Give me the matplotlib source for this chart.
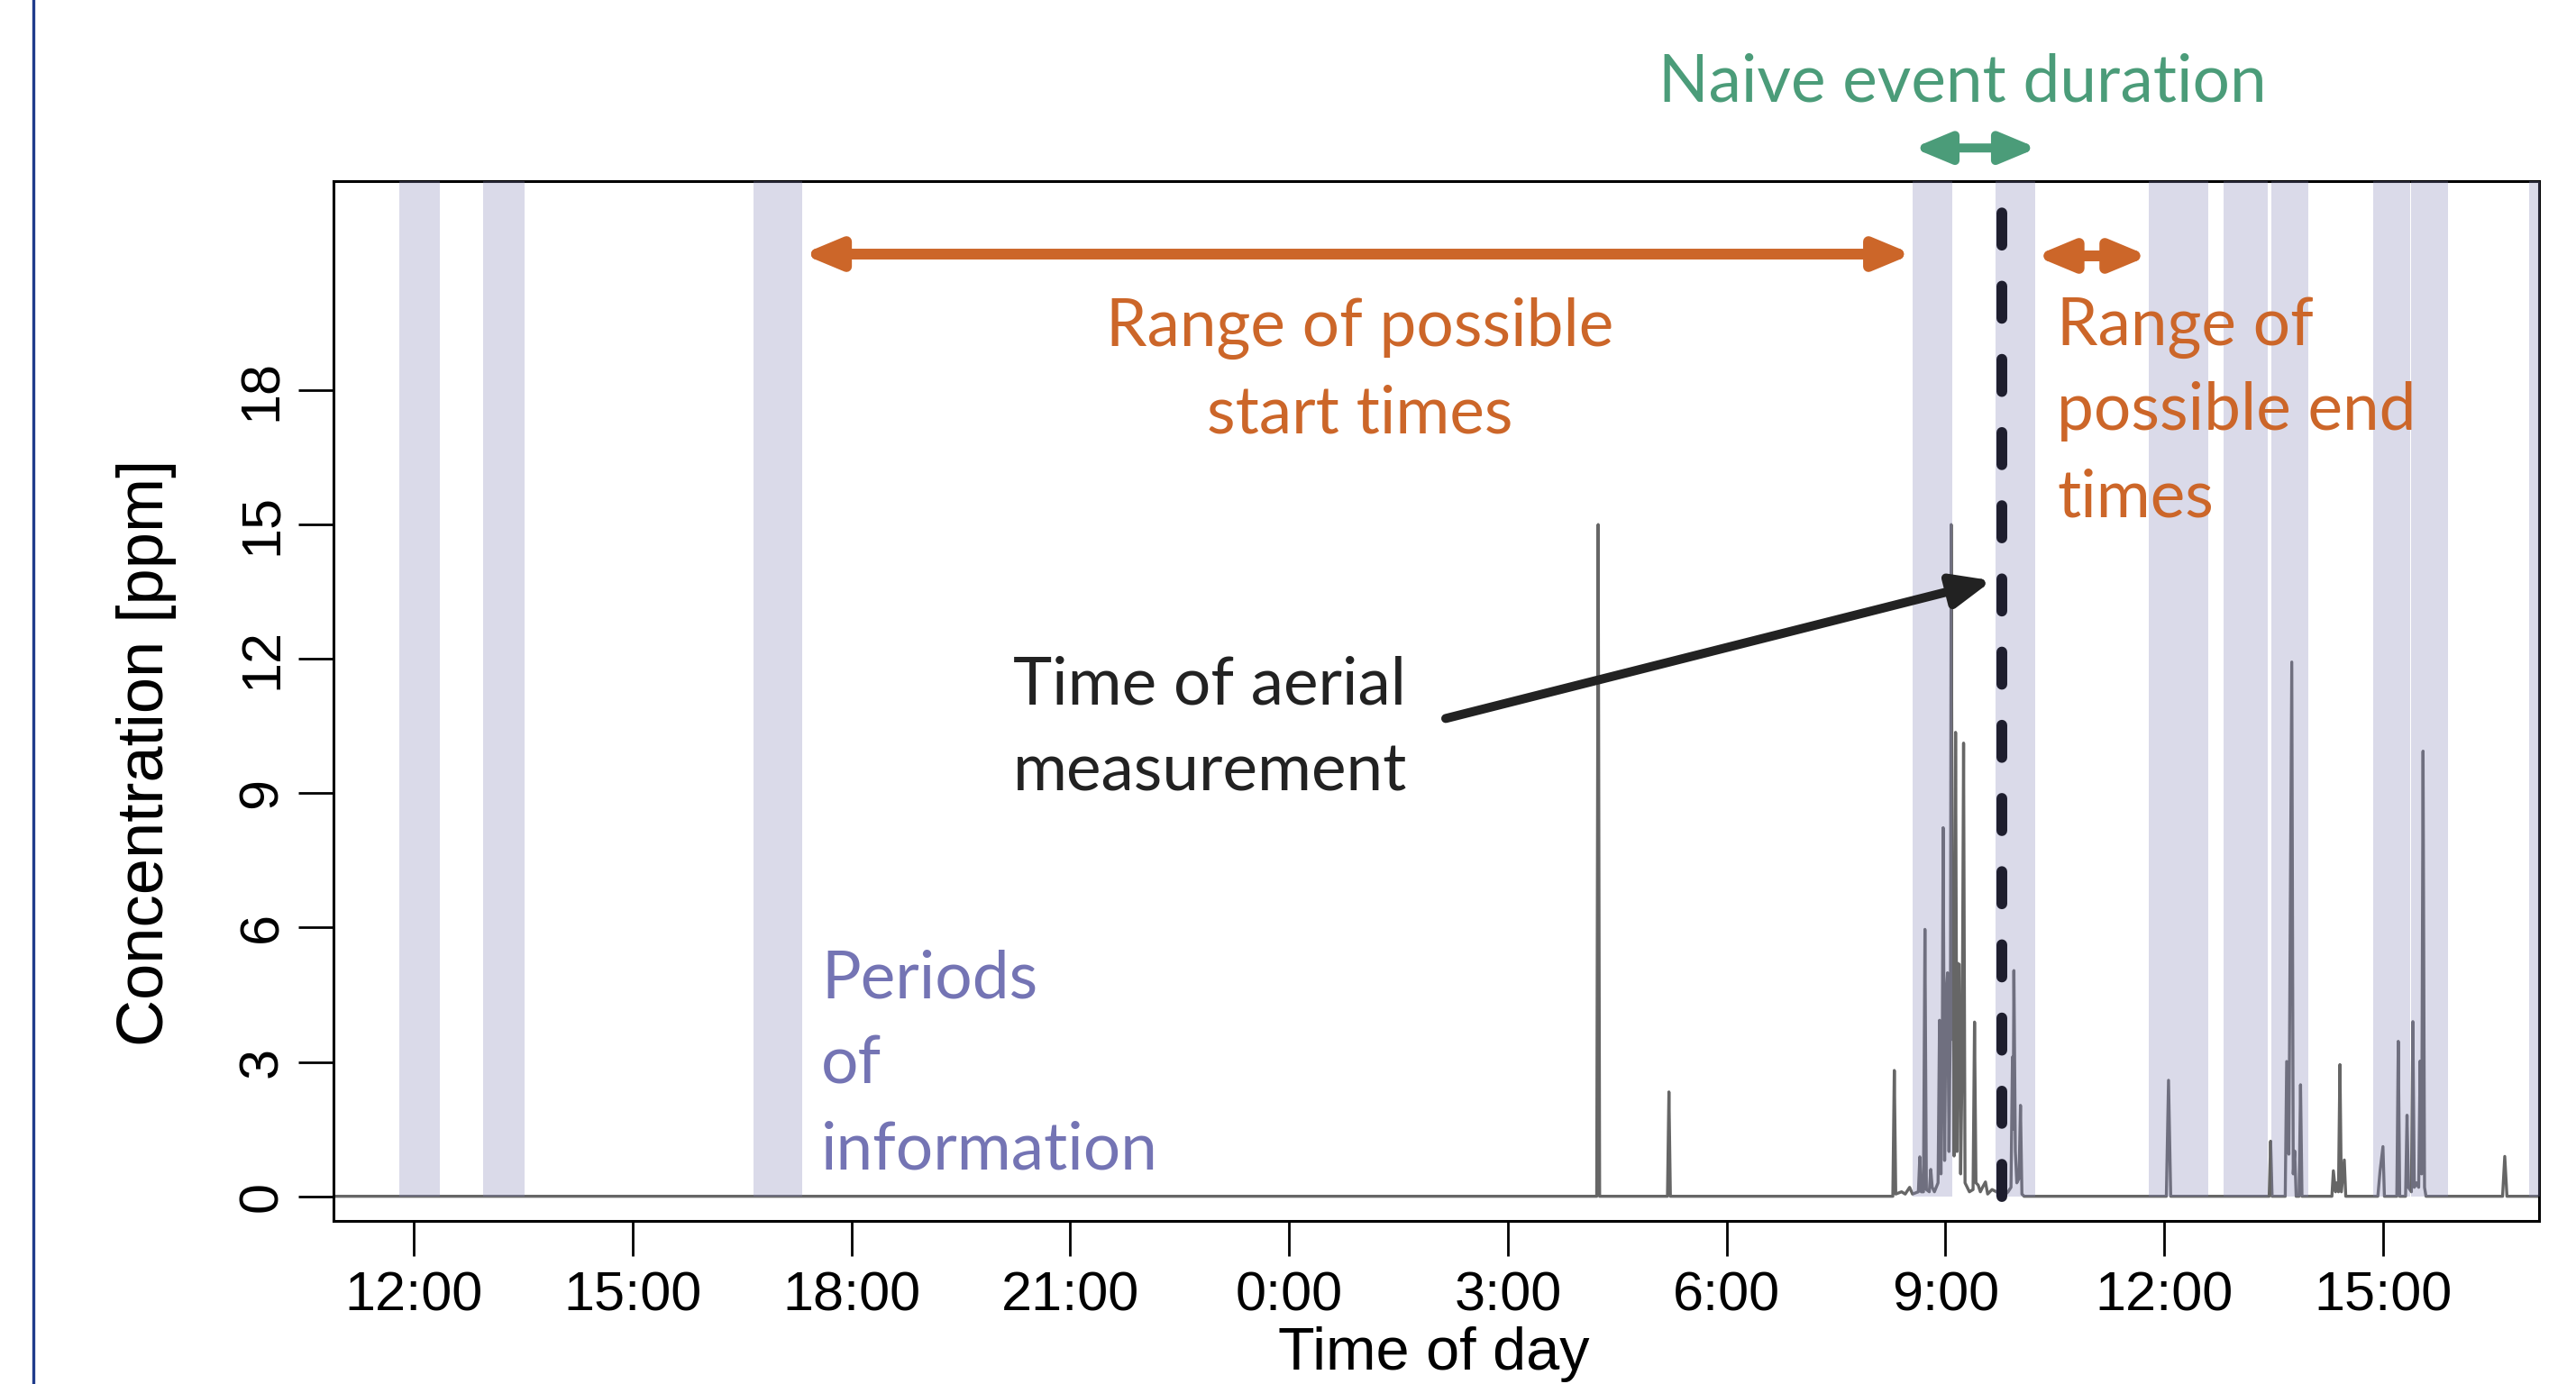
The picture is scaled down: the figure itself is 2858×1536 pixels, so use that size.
import matplotlib
matplotlib.use("Agg")
import matplotlib.pyplot as plt
from matplotlib.lines import Line2D

# time in hours after 12:00 on day 1, concentration in ppm
time_h = [-1.10, 16.22, 16.24, 16.26, 17.19, 17.21, 17.23,
          20.28, 20.30, 20.32, 20.40, 20.45, 20.51, 20.55, 20.63, 20.65, 20.67,
          20.70, 20.72, 20.74, 20.78, 20.80, 20.82, 20.85, 20.90, 20.92, 20.94,
          20.96, 20.97, 20.99, 21.01, 21.03, 21.05, 21.07, 21.08, 21.10, 21.11,
          21.12, 21.14, 21.16, 21.17, 21.19, 21.21, 21.23, 21.25, 21.27, 21.30,
          21.33, 21.38, 21.40, 21.42, 21.45, 21.48, 21.51, 21.55, 21.58, 21.64,
          21.70, 21.75, 21.80, 21.86, 21.90, 21.92, 21.93, 21.94, 21.96, 21.98,
          22.01, 22.03, 22.05, 22.08,
          24.03, 24.06, 24.09, 25.44, 25.46, 25.48, 25.66, 25.68, 25.71, 25.75,
          25.77, 25.79, 25.81, 25.85, 25.87, 25.89, 26.30, 26.32, 26.35, 26.37,
          26.39, 26.41, 26.43, 26.47, 26.49, 26.93, 26.96, 27.00, 27.02, 27.19,
          27.21, 27.23, 27.31, 27.33, 27.35, 27.39, 27.41, 27.43, 27.46, 27.49,
          27.51, 27.53, 27.55, 27.57, 27.59, 28.64, 28.67, 28.70, 29.14]
conc = [0, 0, 15.0, 0, 0, 2.33, 0,
        0, 2.81, 0.05, 0.1, 0.05, 0.2, 0.05, 0.1, 0.88, 0.1,
        0.1, 5.96, 0.15, 0.1, 0.60, 0.2, 0.1, 0.3, 3.93, 0.5,
        4.0, 8.23, 0.8, 4.5, 4.99, 1.0, 4.2, 15.0, 3.5, 4.8,
        0.9, 10.36, 1.0, 5.2, 5.18, 0.5, 3.0, 10.12, 0.3, 0.2,
        0.1, 0.15, 3.89, 0.3, 0.25, 0.1, 0.2, 0.32, 0.05, 0.15,
        0.1, 0.05, 0.0, 0.1, 0.2, 3.11, 1.5, 5.04, 1.0, 0.3,
        0.4, 2.03, 0.05, 0,
        0, 2.59, 0, 0, 1.23, 0, 0, 3.01, 0.94, 11.93,
        0.5, 1.01, 0, 0, 2.49, 0, 0, 0.57, 0.1, 0.3,
        0.1, 2.94, 0.1, 0.81, 0, 0, 0.56, 1.11, 0, 0,
        3.46, 0, 0, 1.81, 0.2, 0.1, 3.90, 0.2, 0.3, 0.2,
        3.02, 0.5, 9.94, 0.2, 0, 0, 0.89, 0, 0]

# periods of information (start, end) in hours after 12:00
info_start = [-0.20, 0.95, 4.66, 20.55, 21.69, 23.79, 24.82, 25.47, 26.87, 27.39, 29.00]
info_end = [0.36, 1.52, 5.33, 21.09, 22.23, 24.60, 25.42, 25.98, 27.37, 27.89, 29.20]

aerial_time = 21.77
tick_hours = [0, 3, 6, 9, 12, 15, 18, 21, 24, 27]
tick_labels = ["12:00", "15:00", "18:00", "21:00", "0:00", "3:00",
               "6:00", "9:00", "12:00", "15:00"]
y_ticks = [0, 3, 6, 9, 12, 15, 18]

ORANGE = "#cc6629"
GREEN = "#4b9c79"
PURPLE = "#7474b4"
DARK = "#222222"
ANN_FONT = "Lato"

fig = plt.figure(figsize=(14.29, 7.68), dpi=200)
ax = fig.add_axes([0.12946, 0.11784, 0.85619, 0.75130])
ax.set_xlim(-1.10, 29.14)
ax.set_ylim(-0.55, 22.67)
y_top = 22.67

ax.plot(time_h, conc, color="#666666", lw=1.2, zorder=2)
for s, e in zip(info_start, info_end):
    ax.fill_between([s, e], 0, y_top, color="#8787b9", alpha=0.3, lw=0, zorder=3)

ax.plot([aerial_time, aerial_time], [0, y_top - 0.15], color="#1e1e2e", lw=4.3,
        dashes=(3, 3.8), dash_capstyle="round", zorder=5)

ax.set_xticks(tick_hours)
ax.set_xticklabels(tick_labels)
ax.set_yticks(y_ticks)
for lab in ax.get_xticklabels() + ax.get_yticklabels():
    lab.set_fontfamily("Liberation Sans")
    lab.set_fontsize(22)
ax.tick_params(axis="x", length=14, width=1.0, pad=6)
ax.tick_params(axis="y", length=14, width=1.0, pad=4, labelrotation=90)
for lab in ax.get_yticklabels():
    lab.set_va("center")
for sp in ax.spines.values():
    sp.set_linewidth(1.1)

fig.text(0.0567, 0.4564, "Concentration [ppm]", rotation=90, ha="center",
         va="center", fontsize=26, family="Liberation Sans")
fig.text(0.5567, 0.001, "Time of day", ha="center", va="bottom",
         fontsize=24, family="Liberation Sans")

# left border line
fig.add_artist(Line2D([37 / 2858, 37 / 2858], [0, 1], transform=fig.transFigure,
                      color="#203c8c", lw=1.2))


def dbl_arrow(x0, x1, y, color, lw):
    ax.annotate("", xy=(x1, y), xytext=(x0, y), annotation_clip=False,
                arrowprops=dict(arrowstyle="<|-|>,head_length=1.2,head_width=0.5",
                                mutation_scale=10, lw=lw, color=color,
                                shrinkA=0, shrinkB=0, clip_on=False))


dbl_arrow(5.33, 20.55, 21.04, ORANGE, 4.3)
dbl_arrow(22.23, 23.79, 21.0, ORANGE, 4.3)
dbl_arrow(20.56, 22.26, 23.41, GREEN, 3.6)

ax.annotate("", xy=(21.64, 13.75), xytext=(14.15, 10.67), annotation_clip=False,
            arrowprops=dict(arrowstyle="-|>,head_length=1.3,head_width=0.55",
                            mutation_scale=10, lw=3.6, color=DARK,
                            shrinkA=0, shrinkB=0), zorder=6)

tkw = dict(fontsize=26.3, family=ANN_FONT, va="baseline", zorder=7)
ax.text(21.24, 24.46, "Naive event duration", color=GREEN, ha="center", **tkw)
ax.text(12.97, 18.99, "Range of possible", color=ORANGE, ha="center", **tkw)
ax.text(12.97, 17.05, "start times", color=ORANGE, ha="center", **tkw)
ax.text(22.53, 19.02, "Range of", color=ORANGE, ha="left", **tkw)
ax.text(22.53, 17.11, "possible end", color=ORANGE, ha="left", **tkw)
ax.text(22.53, 15.18, "times", color=ORANGE, ha="left", **tkw)
ax.text(8.22, 10.99, "Time of aerial", color=DARK, ha="left", **tkw)
ax.text(8.22, 9.06, "measurement", color=DARK, ha="left", **tkw)
ax.text(5.59, 4.42, "Periods", color=PURPLE, ha="left", **tkw)
ax.text(5.59, 2.51, "of", color=PURPLE, ha="left", **tkw)
ax.text(5.59, 0.60, "information", color=PURPLE, ha="left", **tkw)

fig.savefig("out.png", dpi=200)
